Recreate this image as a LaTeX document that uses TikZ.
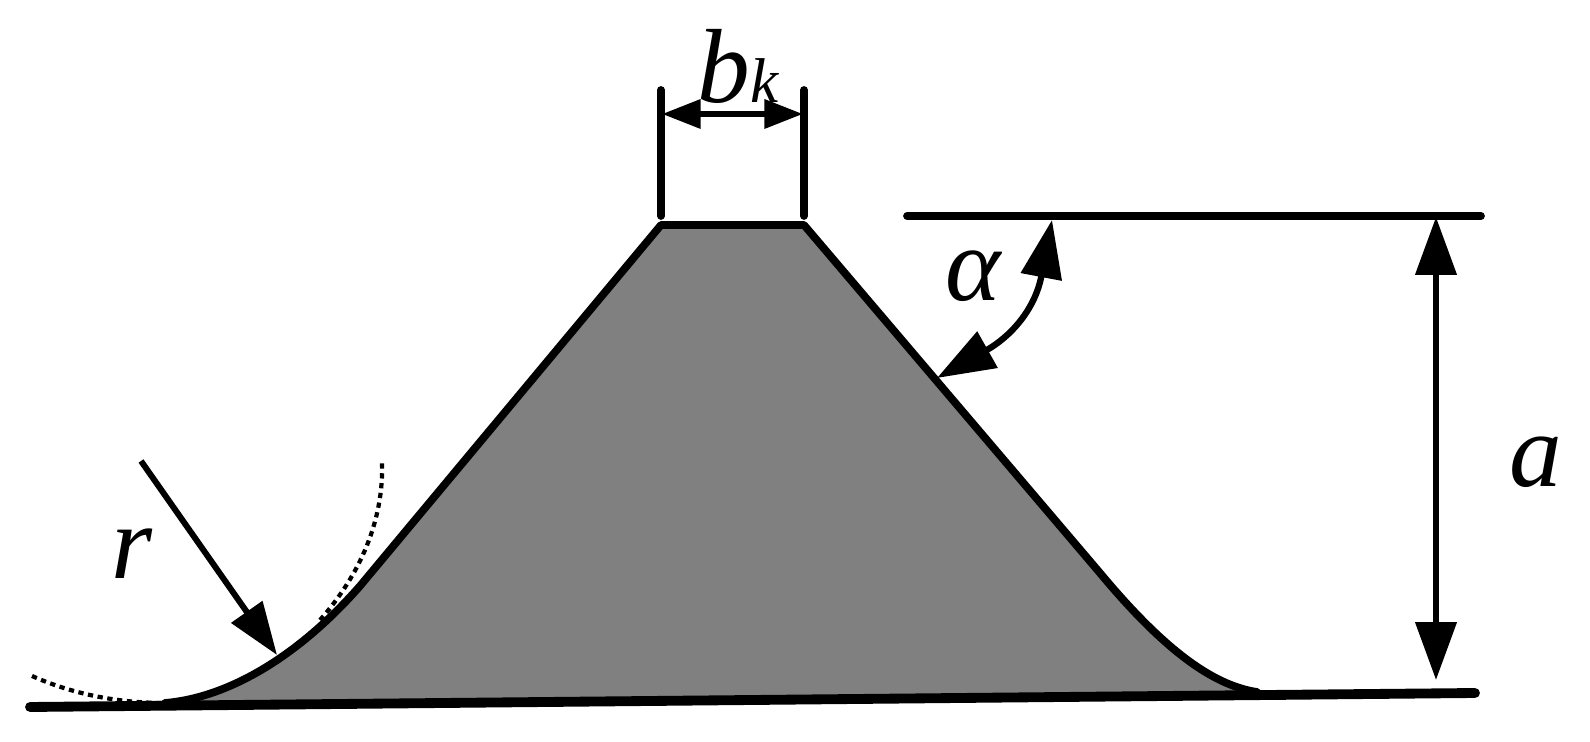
\documentclass[tikz,border=0pt]{standalone}
\usepackage{fontspec}
\setmainfont{Liberation Serif}
\usetikzlibrary{arrows.meta}
\definecolor{ridge}{HTML}{808080}
\tikzset{
    outline/.style={draw=black,line width=4.4pt,line cap=round,line join=round},
    guide/.style={draw=black,line width=2.4pt,dash pattern=on 3pt off 2.6pt},
    bigdim/.style={draw=black,line width=3.6pt,{Triangle[length=33pt,width=23pt]}-{Triangle[length=33pt,width=23pt]}},
    smalldim/.style={draw=black,line width=3.6pt,{Triangle[length=22pt,width=16pt]}-{Triangle[length=22pt,width=16pt]}},
    leader/.style={draw=black,line width=3.4pt,-{Triangle[length=30pt,width=21pt]}},
    sym/.style={inner sep=0pt,font=\fontsize{60}{60}\selectfont\itshape}
}
\begin{document}
\begin{tikzpicture}[x=0.02cm,y=-0.02cm]
    \useasboundingbox (0,0) rectangle (1590,742);
    \coordinate (base0) at (30,707);
    \coordinate (base1) at (1475,693);
    \coordinate (foot0) at (165,703);
    \coordinate (knee0) at (360,586);
    \coordinate (top0) at (661,225);
    \coordinate (top1) at (804,225);
    \coordinate (knee1) at (1100,573);
    \coordinate (foot1) at (1257,692);
    \fill [ridge] (foot0) .. controls (225,698) and (295,660) .. (knee0) -- (top0) -- (top1) -- (knee1)
        .. controls (1160,645) and (1210,685) .. (foot1) -- cycle;
    \draw [outline] (foot0) .. controls (225,698) and (295,660) .. (knee0) -- (top0) -- (top1) -- (knee1)
        .. controls (1160,645) and (1210,685) .. (foot1);
    \draw [outline,line width=5.6pt] (base0) -- (base1);

    \coordinate (arc0) at (32,676);
    \coordinate (arc1) at (382,462);
    \coordinate (arc2) at (320,620);
    \draw [guide] (arc0) .. controls (75,695) and (120,703) .. (foot0);
    \draw [guide] (arc2) .. controls (360,575) and (384,520) .. (arc1);

    \coordinate (wl0) at (661,90);
    \coordinate (wl1) at (661,216);
    \coordinate (wr0) at (804,90);
    \coordinate (wr1) at (804,216);
    \draw [outline] (wl0) -- (wl1);
    \draw [outline] (wr0) -- (wr1);
    \coordinate (wa0) at (662,114);
    \coordinate (wa1) at (803,114);
    \draw [smalldim] (wa0) -- (wa1);

    \coordinate (hl0) at (907,216);
    \coordinate (hl1) at (1481,216);
    \draw [outline] (hl0) -- (hl1);
    \coordinate (ha0) at (1436,217);
    \coordinate (ha1) at (1436,680);
    \draw [bigdim] (ha0) -- (ha1);

    \coordinate (aa0) at (937,378);
    \coordinate (aa1) at (1052,220);
    \draw [bigdim] (aa0) .. controls (1010,337) and (1035,310) .. (aa1);

    \coordinate (ra0) at (141,461);
    \coordinate (ra1) at (277,655);
    \draw [leader] (ra0) -- (ra1);

    \begin{scope}[every node/.style={sym}]
        \node (lbk) at (738,66) {b\fontsize{36}{36}\selectfont k};
        \node (lalpha) at (973,276) {α};
        \node (la) at (1536,462) {a};
        \node (lr) at (132,554) {r};
    \end{scope}
\end{tikzpicture}
\end{document}
